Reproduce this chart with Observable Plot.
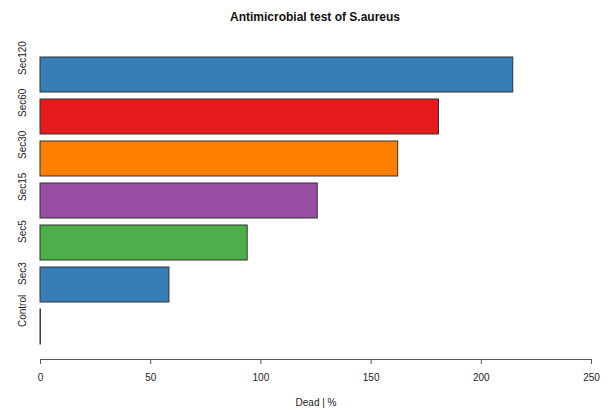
<!DOCTYPE html>
<html>
<head>
<meta charset="utf-8">
<script src="https://cdn.jsdelivr.net/npm/d3@7"></script>
<script src="https://cdn.jsdelivr.net/npm/@observablehq/plot@0.6"></script>
<style>
  body { margin: 0; background: #fff; font-family: "Liberation Sans", Arial, sans-serif; }
  #title { height: 34px; width: 615px; position: relative; }
  #title span { position: absolute; left: 315px; top: 10px; transform: translateX(-50%); font-weight: bold; font-size: 12px; color: #111; white-space: nowrap; }
</style>
</head>
<body>
<div id="title"><span>Antimicrobial test of S.aureus</span></div>
<div id="chart"></div>
<script>
const categories = ["Sec120", "Sec60", "Sec30", "Sec15", "Sec5", "Sec3", "Control"];
const values = [214.5, 180.8, 162.3, 125.8, 94.0, 58.5, 0.2];
const colors = ["#377EB8", "#E41A1C", "#FF7F00", "#984EA3", "#4DAF4A", "#377EB8", "#E41A1C"];
const xTicks = [0, 50, 100, 150, 200, 250];

const data = categories.map((c, i) => ({cat: c, value: values[i], color: colors[i]}));

const chart = Plot.plot({
  width: 615,
  height: 376,
  marginLeft: 40,
  marginRight: 24,
  marginTop: 10,
  marginBottom: 51,
  style: { fontFamily: "Liberation Sans, Arial, sans-serif", fontSize: "10px", color: "#222" },
  x: { domain: [0, 250], ticks: xTicks, label: null },
  y: { domain: categories, range: [21, 312], paddingInner: 0.2 / 1.2, paddingOuter: 0, axis: null },
  marks: [
    Plot.barX(data, { x: "value", y: "cat", fill: "color", stroke: "#333", strokeWidth: 1 }),
    Plot.text(data, { y: "cat", text: "cat", frameAnchor: "left", dx: -18, rotate: -90, fontSize: 10, fill: "#222" }),
    Plot.frame({ anchor: "bottom", stroke: "#555" }),
    Plot.axisX({ ticks: xTicks, tickSize: 5, tickPadding: 9, stroke: "#555", fill: "#222", fontSize: 10, label: null }),
    Plot.text(["Dead | %"], { text: d => d, frameAnchor: "bottom", dy: 46, fontSize: 10, fill: "#222" })
  ]
});
document.getElementById("chart").appendChild(chart);
</script>
</body>
</html>
